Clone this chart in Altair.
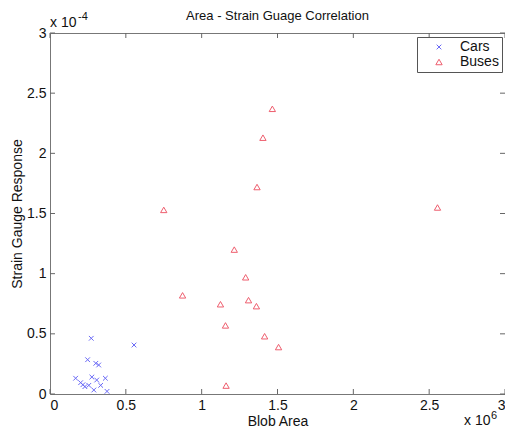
import altair as alt
import pandas as pd

# Blob area in units of 1e6, strain gauge response in units of 1e-4
cars_area = [0.272, 0.554, 0.248, 0.302, 0.321, 0.169, 0.276, 0.308, 0.365,
             0.202, 0.217, 0.230, 0.256, 0.334, 0.289, 0.376]
cars_resp = [0.463, 0.407, 0.285, 0.255, 0.241, 0.131, 0.141, 0.116, 0.131,
             0.094, 0.077, 0.061, 0.072, 0.072, 0.033, 0.022]

bus_area = [0.750, 0.874, 1.124, 1.157, 1.161, 1.215, 1.290, 1.309, 1.365,
            1.361, 1.404, 1.415, 1.466, 1.507, 2.555]
bus_resp = [1.53, 0.82, 0.746, 0.57, 0.07, 1.20, 0.97, 0.78, 1.72,
            0.73, 2.13, 0.48, 2.37, 0.39, 1.55]

series_names = ["Cars", "Buses"]
x_ticks = [0, 0.5, 1, 1.5, 2, 2.5, 3]
y_ticks = [0, 0.5, 1, 1.5, 2, 2.5, 3]
chart_title = "Area - Strain Guage Correlation"

df = pd.DataFrame({
    "area": cars_area + bus_area,
    "response": cars_resp + bus_resp,
    "vehicle": ["Cars"] * len(cars_area) + ["Buses"] * len(bus_area),
})
xt = pd.DataFrame({"area": x_ticks})
yt = pd.DataFrame({"response": y_ticks})
one = pd.DataFrame({"k": [0]})

W, H = 455, 361
FONT = "Liberation Sans"
TICK = 5

xenc = alt.X("area:Q", scale=alt.Scale(domain=[0, 3], nice=False, zero=False),
             axis=alt.Axis(values=x_ticks, format="~g", title="Blob Area",
                           ticks=False, domain=False, grid=False,
                           labelPadding=4, titlePadding=2,
                           labelFontSize=14, titleFontSize=14,
                           titleFontWeight="normal", labelColor="#111",
                           titleColor="#111"))
yenc = alt.Y("response:Q", scale=alt.Scale(domain=[0, 3], nice=False, zero=False),
             axis=alt.Axis(values=y_ticks, format="~g", title="Strain Gauge Response",
                           ticks=False, domain=False, grid=False,
                           labelPadding=4, titlePadding=2,
                           labelFontSize=14, titleFontSize=14,
                           titleFontWeight="normal", labelColor="#111",
                           titleColor="#111"))

cross_path = "M-1,-1L1,1M-1,1L1,-1"
legend = alt.Legend(title=None, orient="none", legendX=367, legendY=4,
                    padding=3, symbolOffset=12, labelOffset=14, rowPadding=1,
                    strokeColor="#555", fillColor="white", labelFontSize=14,
                    labelColor="#111", symbolStrokeWidth=1)

points = alt.Chart(df).mark_point(filled=False, strokeWidth=1, opacity=1).encode(
    x=xenc, y=yenc,
    color=alt.Color("vehicle:N", scale=alt.Scale(domain=series_names,
                                                 range=["#6a6af6", "#ee5e6e"]),
                    legend=legend),
    shape=alt.Shape("vehicle:N", scale=alt.Scale(domain=series_names,
                                                 range=[cross_path, "triangle-up"]),
                    legend=legend),
    size=alt.Size("vehicle:N", scale=alt.Scale(domain=series_names, range=[22, 40]),
                  legend=None),
)

tick_color = "#666"
xt_bottom = alt.Chart(xt).mark_rule(color=tick_color).encode(
    x=xenc, y=alt.value(H), y2=alt.value(H - TICK))
xt_top = alt.Chart(xt).mark_rule(color=tick_color).encode(
    x=xenc, y=alt.value(0), y2=alt.value(TICK))
yt_left = alt.Chart(yt).mark_rule(color=tick_color).encode(
    y=yenc, x=alt.value(0), x2=alt.value(TICK))
yt_right = alt.Chart(yt).mark_rule(color=tick_color).encode(
    y=yenc, x=alt.value(W), x2=alt.value(W - TICK))

def label(txt, x, y, size, align="left"):
    return alt.Chart(one).mark_text(align=align, baseline="alphabetic",
                                    fontSize=size, color="#111", font=FONT).encode(
        x=alt.value(x), y=alt.value(y), text=alt.value(txt))

title_txt = label(chart_title, W / 2, -13, 13, align="center")
exp_y1 = label("x 10", 0, -6, 14)
exp_y2 = label("-4", 28, -13, 11)
exp_x1 = label("x 10", 414, 392, 14)
exp_x2 = label("6", 441, 386, 11)

chart = alt.layer(
    xt_bottom, xt_top, yt_left, yt_right, points,
    title_txt, exp_y1, exp_y2, exp_x1, exp_x2
).properties(
    width=W, height=H,
    autosize="none",
    padding={"left": 42, "top": 25, "right": 0, "bottom": 33},
).configure(font=FONT).configure_view(stroke="#777", strokeWidth=1)

chart.save("out.html", embed_options={"renderer": "svg", "actions": False})
